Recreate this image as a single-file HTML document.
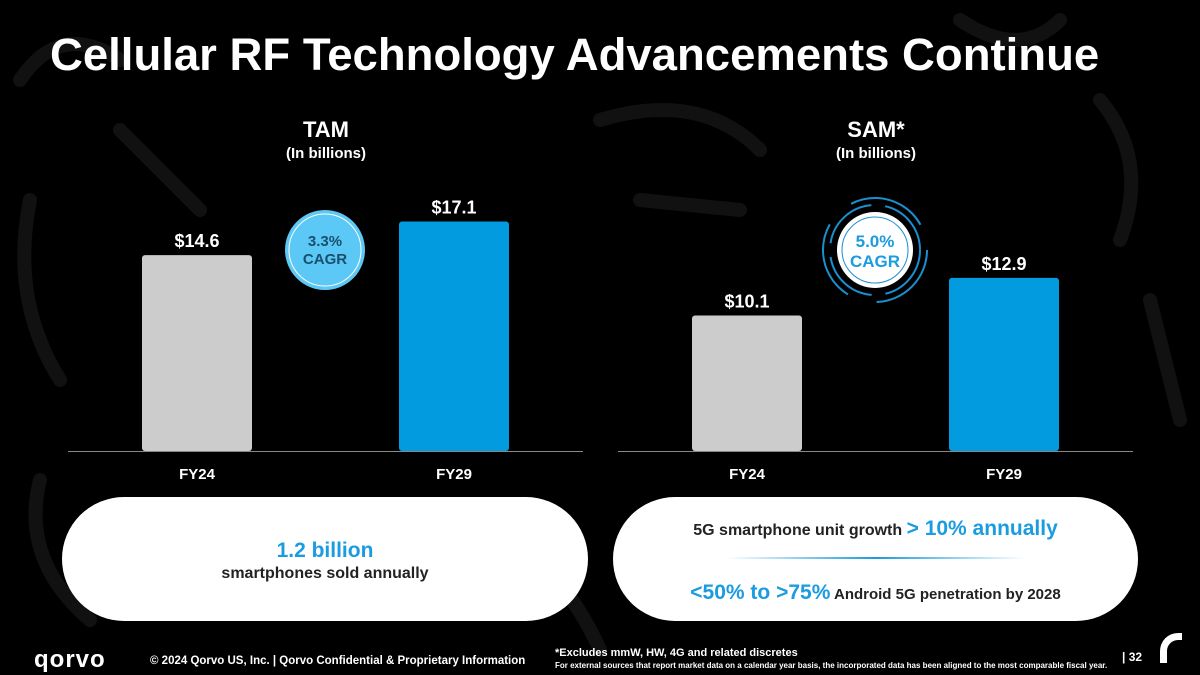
<!DOCTYPE html>
<html><head><meta charset="utf-8"><style>
body{margin:0;width:1200px;height:675px;background:#000;overflow:hidden;font-family:"Liberation Sans",sans-serif;position:relative;color:#fff}
.abs{position:absolute}
.pill{position:absolute;top:497px;height:124px;background:#fff;border-radius:62px;color:#222;text-align:center}
</style></head><body>
<svg class="abs" style="left:0;top:0" width="1200" height="675">
<g fill="none" stroke="#111" stroke-width="14" stroke-linecap="round">
<path d="M20 80 Q60 20 120 60"/><path d="M30 200 Q10 300 60 380"/><path d="M120 130 L200 210"/><path d="M600 120 Q700 90 760 150"/><path d="M640 200 L740 210"/><path d="M1100 100 Q1150 160 1120 240"/><path d="M1150 300 L1180 420"/><path d="M40 480 Q20 560 90 620"/><path d="M480 520 Q560 560 600 650"/><path d="M960 20 Q1020 60 1060 20"/>
</g></svg>
<div class="abs" style="left:50px;top:29px;font-size:45.5px;font-weight:bold;white-space:nowrap">Cellular RF Technology Advancements Continue</div>
<div class="abs" style="left:226px;top:117px;width:200px;text-align:center;font-size:22px;font-weight:bold">TAM</div>
<div class="abs" style="left:226px;top:145px;width:200px;text-align:center;font-size:15px;font-weight:bold">(In billions)</div>
<div class="abs" style="left:776px;top:117px;width:200px;text-align:center;font-size:22px;font-weight:bold">SAM*</div>
<div class="abs" style="left:776px;top:145px;width:200px;text-align:center;font-size:15px;font-weight:bold">(In billions)</div>
<svg class="abs" style="left:0;top:0" width="1200" height="675" id="chart">
<circle cx="325" cy="250" r="40" fill="#5bc8f5"/>
<circle cx="325" cy="250" r="36" fill="none" stroke="#fff" stroke-width="1"/>
<text x="325" y="246" text-anchor="middle" font-size="15" font-weight="bold" fill="#1a4f6e">3.3%</text>
<text x="325" y="264" text-anchor="middle" font-size="15" font-weight="bold" fill="#1a4f6e">CAGR</text>
<g>
<circle cx="875" cy="250" r="45" fill="none" stroke="#1b8fcf" stroke-width="2" stroke-dasharray="60 14"/>
<circle cx="875" cy="250" r="52" fill="none" stroke="#1b8fcf" stroke-width="2" stroke-dasharray="80 30"/>
<circle cx="875" cy="250" r="38" fill="#fff"/>
<circle cx="875" cy="250" r="33" fill="none" stroke="#1b8fcf" stroke-width="1"/>
<text x="875" y="247" text-anchor="middle" font-size="17" font-weight="bold" fill="#1b9be0">5.0%</text>
<text x="875" y="267" text-anchor="middle" font-size="17" font-weight="bold" fill="#1b9be0">CAGR</text>
</g>
</svg>
<script>
const categories=["FY24","FY29"];
const tamValues=[14.6,17.1];
const samValues=[10.1,12.9];
const tamLabels=["$14.6","$17.1"];
const samLabels=["$10.1","$12.9"];
const svg=document.getElementById('chart');
const NS='http://www.w3.org/2000/svg';
const base=451,scale=13.42;
function y(v){return base-v*scale;}
function draw(x0,vals,labels,prefix){
  const ax=document.createElementNS(NS,'line');
  ax.setAttribute('x1',x0);ax.setAttribute('x2',x0+515);ax.setAttribute('y1',base+0.5);ax.setAttribute('y2',base+0.5);
  ax.setAttribute('stroke','#888');ax.setAttribute('stroke-width','1');
  
  
  svg.insertBefore(ax,svg.firstChild);
  vals.forEach((v,i)=>{
    const cx=x0+129+i*257;
    const r=document.createElementNS(NS,'rect');
    r.setAttribute('x',cx-55);r.setAttribute('width',110);r.setAttribute('y',y(v));r.setAttribute('height',v*scale);
    r.setAttribute('rx',3);r.setAttribute('fill',i==0?'#cccccc':'#039be0');
    
    
    svg.insertBefore(r,svg.firstChild.nextSibling);
    const t=document.createElementNS(NS,'text');
    t.setAttribute('x',cx);t.setAttribute('y',y(v)-8);t.setAttribute('text-anchor','middle');
    t.setAttribute('font-size','18');t.setAttribute('font-weight','bold');t.setAttribute('fill','#fff');
    t.textContent=labels[i];
    
    
    svg.appendChild(t);
    const c=document.createElementNS(NS,'text');
    c.setAttribute('x',cx);c.setAttribute('y',479);c.setAttribute('text-anchor','middle');
    c.setAttribute('font-size','15');c.setAttribute('font-weight','bold');c.setAttribute('fill','#fff');
    c.textContent=categories[i];
    
    
    svg.appendChild(c);
  });
}
draw(68,tamValues,tamLabels,'tam');
draw(618,samValues,samLabels,'sam');
</script>
<div class="pill" style="left:62px;width:526px">
<div style="margin-top:42px;font-size:21px;font-weight:bold;color:#1b9be0">1.2 billion</div>
<div style="font-size:16px;font-weight:bold;margin-top:2px">smartphones sold annually</div></div>
<div class="pill" style="left:613px;width:525px">
<div style="margin-top:20px;font-size:16px;font-weight:bold">5G smartphone unit growth <span style="color:#1b9be0;font-size:21px">&gt; 10% annually</span></div>
<div style="margin:16px auto 0;width:300px;height:2px;background:linear-gradient(90deg,transparent,#1b9be0,transparent)"></div>
<div style="margin-top:22px;font-size:15px;font-weight:bold"><span style="color:#1b9be0;font-size:21px">&lt;50% to &gt;75%</span> Android 5G penetration by 2028</div></div>
<div class="abs" style="left:34px;top:646px;font-size:24px;font-weight:bold;letter-spacing:1px">qorvo</div>
<div class="abs" style="left:150px;top:655px;font-size:11.5px;font-weight:bold">© 2024 Qorvo US, Inc. | Qorvo Confidential &amp; Proprietary Information</div>
<div class="abs" style="left:555px;top:647px;font-size:11px;font-weight:bold">*Excludes mmW, HW, 4G and related discretes</div>
<div class="abs" style="left:555px;top:661px;font-size:8px;font-weight:bold;white-space:nowrap">For external sources that report market data on a calendar year basis, the incorporated data has been aligned to the most comparable fiscal year.</div>
<div class="abs" style="left:1122px;top:650px;font-size:12px;font-weight:bold">| 32</div>
<div class="abs" style="left:1160px;top:633px;width:22px;height:30px;border-left:7px solid #fff;border-top:7px solid #fff;border-radius:18px 0 0 0;box-sizing:border-box"></div>
</body></html>
